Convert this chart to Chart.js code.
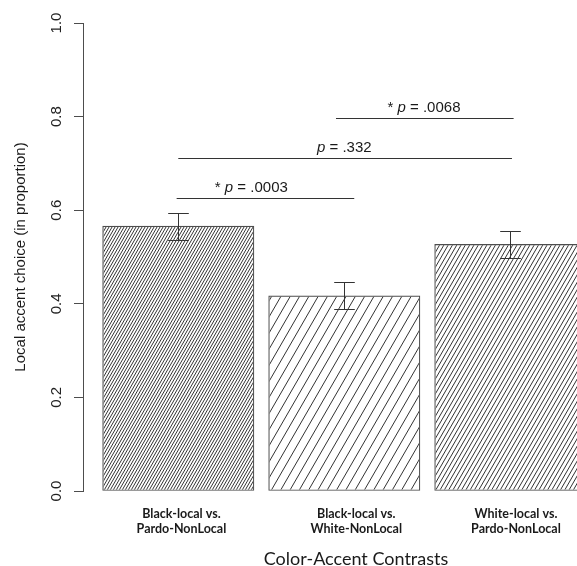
<!DOCTYPE html>
<html>
<head>
<meta charset="utf-8">
<script src="https://cdn.jsdelivr.net/npm/chart.js@4.4.1/dist/chart.umd.min.js"></script>
<style>
  html, body { margin: 0; padding: 0; background: #fff; overflow: hidden; }
  #frame { width: 577px; height: 566px; overflow: hidden; position: relative; }
  canvas { display: block; }
</style>
</head>
<body>
<div id="frame"><canvas id="chart" width="629" height="566"></canvas></div>
<script>
// Contrast conditions (x categories)
const categories = [
  ['Black-local vs.', 'Pardo-NonLocal'],
  ['Black-local vs.', 'White-NonLocal'],
  ['White-local vs.', 'Pardo-NonLocal']
];
// Proportion of local-accent choices and the error-bar limits
const proportions = [0.566, 0.417, 0.527];
const errorLow = [0.536, 0.388, 0.498];
const errorHigh = [0.595, 0.446, 0.556];
// y axis ticks
const yTicks = [0.0, 0.2, 0.4, 0.6, 0.8, 1.0];
// Pairwise comparisons drawn as brackets above the bars (x in category units)
const pairFrom = [0.99, 1.0, 1.95];
const pairTo = [2.06, 3.01, 3.02];
const pairLevel = [0.626, 0.711, 0.798];
const pairLabelAt = [1.44, 2.0, 2.48];
const pairP = ['.0003', '.332', '.0068'];
const pairSignificant = [true, false, true];

const SANS = '"Liberation Sans", Arial, Helvetica, sans-serif';
const LABEL_FONT = 'Lato, "Open Sans", sans-serif';

const barPoints = proportions.map((v, i) => ({ x: i + 1, y: v }));

// Hatching, error bars and comparison brackets
const overlays = {
  id: 'overlays',
  afterDatasetsDraw(chart, args, opts) {
    const ctx = chart.ctx;
    const xs = chart.scales.x, ys = chart.scales.y;
    const meta = chart.getDatasetMeta(0);

    // diagonal hatch fill inside each bar
    meta.data.forEach((bar, i) => {
      const p = bar.getProps(['x', 'y', 'base', 'width'], true);
      const l = p.x - p.width / 2, r = p.x + p.width / 2;
      const t = Math.min(p.y, p.base), b = Math.max(p.y, p.base);
      ctx.save();
      ctx.beginPath();
      ctx.rect(l + 1, t + 1, r - l - 2, b - t - 2);
      ctx.clip();
      ctx.strokeStyle = opts.hatchColor;
      ctx.lineWidth = opts.hatchWidth;
      const gap = opts.hatchGaps[i];
      const run = (b - t) / Math.tan(opts.hatchAngle * Math.PI / 180);
      ctx.beginPath();
      for (let x0 = r; x0 >= l - run - gap; x0 -= gap) {
        ctx.moveTo(x0, b);
        ctx.lineTo(x0 + run, t);
      }
      ctx.stroke();
      ctx.restore();
    });

    // error bars
    ctx.save();
    ctx.strokeStyle = opts.lineColor;
    ctx.lineWidth = 1;
    meta.data.forEach((bar, i) => {
      const cx = Math.round(bar.x) + 0.5;
      const yh = Math.round(ys.getPixelForValue(errorHigh[i])) + 0.5;
      const yl = Math.round(ys.getPixelForValue(errorLow[i])) + 0.5;
      const w = opts.capHalf;
      ctx.beginPath();
      ctx.moveTo(cx, yh); ctx.lineTo(cx, yl);
      ctx.moveTo(cx - w, yh); ctx.lineTo(cx + w, yh);
      ctx.moveTo(cx - w, yl); ctx.lineTo(cx + w, yl);
      ctx.stroke();
    });

    // comparison lines with p-values
    ctx.fillStyle = '#1a1a1a';
    ctx.textBaseline = 'alphabetic';
    ctx.textAlign = 'left';
    pairLevel.forEach((lvl, i) => {
      const y = Math.round(ys.getPixelForValue(lvl)) + 0.5;
      ctx.beginPath();
      ctx.moveTo(xs.getPixelForValue(pairFrom[i]), y);
      ctx.lineTo(xs.getPixelForValue(pairTo[i]), y);
      ctx.stroke();

      const parts = [];
      if (pairSignificant[i]) parts.push(['* ', '']);
      parts.push(['p', 'italic ']);
      parts.push([' = ' + pairP[i], '']);
      let total = 0;
      parts.forEach(pt => { ctx.font = pt[1] + '15px ' + SANS; total += ctx.measureText(pt[0]).width; });
      let tx = xs.getPixelForValue(pairLabelAt[i]) - total / 2;
      const ty = y - 6.5;
      parts.forEach(pt => {
        ctx.font = pt[1] + '15px ' + SANS;
        ctx.fillText(pt[0], tx, ty);
        tx += ctx.measureText(pt[0]).width;
      });
    });
    ctx.restore();
  }
};

new Chart(document.getElementById('chart'), {
  type: 'bar',
  data: {
    datasets: [{
      data: barPoints,
      backgroundColor: '#ffffff',
      borderColor: '#4d4d4d',
      borderWidth: 1.2,
      borderSkipped: false,
      barThickness: 151.3
    }]
  },
  options: {
    responsive: false,
    animation: false,
    devicePixelRatio: 1,
    layout: { padding: { top: 23, left: 0, right: 0, bottom: 0 } },
    plugins: {
      legend: { display: false },
      tooltip: { enabled: false },
      overlays: {
        hatchGaps: [3, 9.3, 4.3],
        hatchAngle: 60,
        hatchColor: '#333333',
        hatchWidth: 1,
        lineColor: '#333333',
        capHalf: 10.3
      }
    },
    scales: {
      x: {
        type: 'linear',
        offset: false,
        min: 0.426,
        max: 3.715,
        afterFit(scale) { scale.height = 75; },
        afterBuildTicks(scale) {
          const shift = [0.019, 0.072, 0.034];
          scale.ticks = categories.map((c, i) => ({ value: i + 1 + shift[i] }));
        },
        ticks: {
          callback: (v, i) => categories[i],
          font: { family: LABEL_FONT, size: 12.5, weight: 'bold', lineHeight: 1.2 },
          color: '#1a1a1a',
          padding: 15,
          maxRotation: 0,
          minRotation: 0,
          autoSkip: false
        },
        grid: { display: false, drawTicks: false, offset: false },
        border: { display: false },
        title: {
          display: true,
          text: 'Color-Accent Contrasts',
          font: { family: LABEL_FONT, size: 18, lineHeight: 1 },
          color: '#1a1a1a',
          padding: { top: 0, bottom: -2 }
        }
      },
      y: {
        min: 0,
        max: 1,
        afterFit(scale) { scale.width = 83; },
        afterBuildTicks(scale) { scale.ticks = yTicks.map(v => ({ value: v })); },
        ticks: {
          callback: v => v.toFixed(1),
          minRotation: 90,
          maxRotation: 90,
          crossAlign: 'center',
          padding: 6.5,
          font: { family: SANS, size: 15 },
          color: '#222222'
        },
        grid: { drawOnChartArea: false, tickLength: 9, color: '#4d4d4d', lineWidth: 1 },
        border: { color: '#4d4d4d', width: 1 },
        title: {
          display: true,
          text: 'Local accent choice (in proportion)',
          font: { family: SANS, size: 15 },
          color: '#1a1a1a',
          padding: { top: 12, bottom: 0 }
        }
      }
    }
  },
  plugins: [overlays]
});
</script>
</body>
</html>
